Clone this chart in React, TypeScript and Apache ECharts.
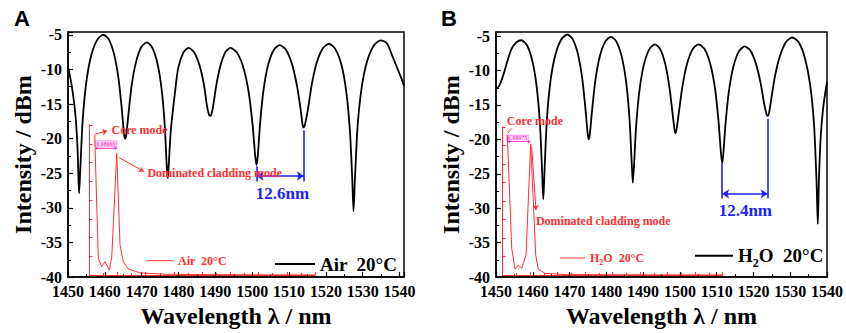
import React, { useEffect, useRef } from 'react';
import * as echarts from 'echarts';

// ---------- data ----------
// Panel A: transmission spectrum in air (wavelength nm, intensity dBm)
const spectrumA: number[][] = [
  [1450, -9.6], [1451, -12.3], [1452, -16.5], [1452.6, -21.5], [1453.0, -27.9],
  [1453.33, -24.5], [1453.99, -17.3], [1454.98, -11.8], [1456.3, -8.0], [1457.95, -5.7],
  [1459.6, -5.0], [1461.08, -5.67], [1462.55, -7.9], [1463.73, -11.4], [1464.62, -15.8],
  [1465.2, -19.3], [1465.5, -20.0], [1465.8, -19.5], [1466.4, -16.5], [1467.27, -12.35],
  [1468.45, -8.95], [1469.9, -6.76], [1471.4, -6.1], [1472.8, -6.79], [1474.25, -9.07],
  [1475.4, -12.8], [1476.25, -18.0], [1476.8, -24.0], [1477.1, -25.7], [1477.38, -23.5],
  [1477.94, -18.6], [1479.0, -13.5], [1479.9, -9.85], [1481.3, -7.58], [1482.7, -6.9],
  [1484.18, -7.5], [1485.75, -9.5], [1486.93, -12.3], [1487.7, -15.2], [1488.3, -16.6],
  [1488.6, -16.7], [1488.88, -16.6], [1489.43, -15.2], [1490.25, -12.3], [1491.35, -9.5],
  [1492.73, -7.5], [1494.1, -6.9], [1495.88, -7.58], [1497.65, -9.82], [1499.07, -13.4],
  [1500.14, -18.2], [1500.85, -22.7], [1501.2, -23.8], [1501.51, -22.5], [1502.13, -17.9],
  [1503.06, -13.0], [1504.3, -9.4], [1505.85, -7.2], [1507.4, -6.5], [1509.1, -7.14],
  [1510.8, -9.24], [1512.16, -12.4], [1513.18, -15.9], [1513.7, -18.1], [1514.0, -18.4],
  [1514.35, -17.9], [1515.15, -15.7], [1516.16, -12.2], [1517.5, -9.04], [1519.18, -6.94],
  [1520.85, -6.3], [1522.5, -7.0], [1524.2, -9.3], [1525.5, -13.1], [1526.5, -18.7],
  [1527.17, -26.0], [1527.5, -30.5], [1527.87, -26.0], [1528.61, -18.2], [1529.72, -12.6],
  [1531.2, -8.8], [1533.05, -6.5], [1534.9, -5.8], [1536.5, -6.2], [1538.0, -8.0],
  [1539.5, -10.0], [1540.5, -11.3], [1541.2, -12.4],
];

// Panel B: transmission spectrum in water
const spectrumB: number[][] = [
  [1450, -12.6], [1450.8, -12.3], [1451.9, -10.8], [1453.0, -8.8], [1454.2, -6.9],
  [1455.5, -5.9], [1456.9, -5.6], [1458.39, -6.29], [1459.88, -8.6], [1461.07, -12.4],
  [1461.97, -17.9], [1462.56, -25.1], [1462.86, -28.7], [1463.19, -24.6], [1463.84, -17.1],
  [1464.82, -11.5], [1466.13, -7.75], [1467.77, -5.45], [1469.4, -4.76], [1470.85, -5.43],
  [1472.3, -7.65], [1473.46, -11.2], [1474.33, -15.6], [1474.91, -19.1], [1475.2, -20.0],
  [1475.5, -19.3], [1476.1, -15.9], [1477.0, -11.5], [1478.2, -8.0], [1479.74, -5.77],
  [1481.25, -5.1], [1482.74, -5.79], [1484.23, -8.08], [1485.42, -11.8], [1486.31, -17.1],
  [1486.9, -23.4], [1487.2, -26.3], [1487.5, -24.1], [1488.1, -18.1], [1489.0, -12.9],
  [1490.2, -9.17], [1491.7, -6.89], [1493.2, -6.2], [1494.6, -6.85], [1496.0, -9.0],
  [1497.12, -12.3], [1497.96, -16.0], [1498.52, -18.5], [1498.8, -19.1], [1499.1, -18.5],
  [1499.75, -16.0], [1500.69, -12.3], [1501.95, -9.0], [1503.53, -6.85], [1505.1, -6.2],
  [1506.7, -6.88], [1508.3, -9.12], [1509.58, -12.7], [1510.54, -17.6], [1511.18, -22.1],
  [1511.5, -23.4], [1511.8, -22.2], [1512.4, -17.8], [1513.33, -13.0], [1514.55, -9.42],
  [1516.08, -7.18], [1517.6, -6.5], [1519.16, -7.1], [1520.73, -9.1], [1521.98, -11.9],
  [1522.9, -14.8], [1523.54, -16.3], [1523.85, -16.6], [1524.2, -16.3], [1524.85, -14.1],
  [1525.86, -10.8], [1527.2, -7.9], [1528.9, -5.83], [1530.55, -5.2], [1532.3, -5.9],
  [1534.0, -8.2], [1535.4, -12.0], [1536.46, -17.7], [1537.15, -26.0], [1537.5, -32.3],
  [1537.8, -26.0], [1538.3, -19.5], [1539.0, -15.2], [1540.0, -11.7],
];

// Insets: spatial-frequency spectra (arbitrary units)
const insetA: number[][] = [
  [0.0191, 0.75], [0.0319, 0.089], [0.044, 0.044], [0.0557, 0.071], [0.0709, 0.027],
  [0.0794, 0.091], [0.0972, 0.649], [0.1089, 0.16], [0.1206, 0.071], [0.1383, 0.032],
  [0.1798, 0.011], [0.272, 0.004], [0.3926, 0.002], [0.605, 0.001], [0.8, 0.0005],
];
const insetB: number[][] = [
  [0.0175, 0.757], [0.0335, 0.144], [0.0455, 0.032], [0.0575, 0.054], [0.0698, 0.036],
  [0.0855, 0.108], [0.1025, 0.708], [0.112, 0.396], [0.1207, 0.108], [0.13, 0.032],
  [0.1545, 0.009], [0.233, 0.002], [0.5, 0.001], [0.8, 0.0005],
];

const xTickLabels = [1450, 1460, 1470, 1480, 1490, 1500, 1510, 1520, 1530, 1540];
const yTickLabels = [-40, -35, -30, -25, -20, -15, -10, -5];

// FSR annotations
const fsrA = { left: 1501.2, right: 1514.0, leftTop: -24.0, rightTop: -18.8, arrowY: -25.4, bottom: -26.2, text: '12.6nm', textPos: [1508.2, -27.9] };
const fsrB = { left: 1511.5, right: 1523.85, leftTop: -23.4, rightTop: -17.0, arrowY: -27.9, bottom: -28.6, text: '12.4nm', textPos: [1517.8, -30.3] };

const FONT = 'Liberation Serif, Times New Roman, serif';
const RED = '#ff3030';
const BLUE = '#1f1fff';
const MAGENTA = '#ff33cc';

function fmtX(v: number) {
  const r = Math.round(v * 1000) / 1000;
  return xTickLabels.includes(r) ? String(r) : '';
}
function fmtY(v: number) {
  const r = Math.round(v * 1000) / 1000;
  return yTickLabels.includes(r) ? String(r) : '';
}

const tickLabelStyle = { fontFamily: FONT, fontWeight: 'bold' as const, fontSize: 16, color: '#000' };
const nameStyle = { fontFamily: FONT, fontWeight: 'bold' as const, fontSize: 24, color: '#000' };

function mainX(gridIndex: number, max: number) {
  return {
    type: 'value', gridIndex, min: 1450, max, interval: 10,
    axisLine: { show: true, lineStyle: { color: '#000', width: 1.5 } },
    axisTick: { show: true, inside: true, length: 5, lineStyle: { color: '#000', width: 1.2 } },
    minorTick: { show: true, splitNumber: 2, length: 3, lineStyle: { color: '#000', width: 1 } },
    axisLabel: { ...tickLabelStyle, margin: 6, formatter: fmtX },
    splitLine: { show: false },
    name: 'Wavelength λ / nm', nameLocation: 'middle', nameGap: 19, nameTextStyle: nameStyle,
  };
}
function mainY(gridIndex: number, max: number) {
  return {
    type: 'value', gridIndex, min: -40, max, interval: 5,
    axisLine: { show: true, lineStyle: { color: '#000', width: 1.5 } },
    axisTick: { show: true, inside: true, length: 5, lineStyle: { color: '#000', width: 1.2 } },
    minorTick: { show: true, splitNumber: 2, length: 3, lineStyle: { color: '#000', width: 1 } },
    axisLabel: { ...tickLabelStyle, margin: 6, formatter: fmtY },
    splitLine: { show: false },
    name: 'Intensity / dBm', nameLocation: 'middle', nameGap: 33, nameTextStyle: nameStyle,
  };
}
function insetX(gridIndex: number) {
  return {
    type: 'value', gridIndex, min: 0, max: 0.8, interval: 0.1,
    axisLine: { show: true, lineStyle: { color: RED, width: 1 } },
    axisTick: { show: true, inside: true, length: 3, lineStyle: { color: RED, width: 1 } },
    minorTick: { show: true, splitNumber: 2, length: 2, lineStyle: { color: RED, width: 1 } },
    axisLabel: { show: false }, splitLine: { show: false },
  };
}
function insetY(gridIndex: number) {
  return {
    type: 'value', gridIndex, min: 0, max: 0.8, interval: 0.1,
    axisLine: { show: true, lineStyle: { color: RED, width: 1 } },
    axisTick: { show: true, inside: true, length: 3, lineStyle: { color: RED, width: 1 } },
    axisLabel: { show: false }, splitLine: { show: false },
  };
}

function fsrMarks(f: typeof fsrA) {
  return {
    markLine: {
      silent: true, symbol: ['none', 'none'], symbolSize: 7,
      label: { show: false },
      lineStyle: { color: BLUE, width: 1.6, type: 'solid' },
      data: [
        [{ coord: [f.left, f.leftTop] }, { coord: [f.left, f.bottom] }],
        [{ coord: [f.right, f.rightTop] }, { coord: [f.right, f.bottom] }],
        [{ coord: [f.left, f.arrowY], symbol: 'arrow' }, { coord: [f.right, f.arrowY], symbol: 'arrow' }],
      ],
    },
  };
}

function textPoint(coord: number[], text: string, style: any) {
  return { coord, label: { show: true, position: 'inside', formatter: text, ...style } };
}

const redText = { color: RED, fontFamily: FONT, fontWeight: 'bold', fontSize: 12 };
const magText = { color: MAGENTA, fontFamily: FONT, fontWeight: 'bold', fontSize: 6, borderColor: MAGENTA, borderWidth: 0.6, padding: [0, 1] };

function buildOption() {
  return {
    animation: false,
    backgroundColor: '#fff',
    title: [
      { text: 'A', left: 14, top: 7, padding: 0, textStyle: { fontFamily: 'Liberation Sans', fontWeight: 'bold', fontSize: 22, color: '#000' } },
      { text: 'B', left: 441, top: 7, padding: 0, textStyle: { fontFamily: 'Liberation Sans', fontWeight: 'bold', fontSize: 22, color: '#000' } },
    ],
    grid: [
      { left: 68, top: 32, width: 336, height: 248, show: true, borderColor: '#000', borderWidth: 1.5, backgroundColor: 'transparent' },
      { left: 496, top: 32, width: 336, height: 248, show: true, borderColor: '#000', borderWidth: 1.5, backgroundColor: 'transparent' },
      { left: 89.3, top: 125, width: 225.7, height: 150 },
      { left: 502.5, top: 127, width: 220, height: 148 },
    ],
    xAxis: [mainX(0, 1541.2), mainX(1, 1540), insetX(2), insetX(3)],
    yAxis: [mainY(0, -4.6), mainY(1, -4.4), insetY(2), insetY(3)],
    legend: [
      {
        data: ['mainA'], left: 275, top: 254.5, icon: 'rect', itemWidth: 40, itemHeight: 2, padding: 0, selectedMode: false,
        formatter: () => 'Air  20°C',
        textStyle: { fontFamily: FONT, fontWeight: 'bold', fontSize: 19, color: '#000' },
      },
      {
        data: ['insetA'], left: 147, top: 254.7, icon: 'rect', itemWidth: 26, itemHeight: 1, padding: 0, selectedMode: false,
        formatter: () => 'Air  20°C',
        textStyle: { fontFamily: FONT, fontWeight: 'bold', fontSize: 12, color: RED },
      },
      {
        data: ['mainB'], left: 695, top: 246.3, icon: 'rect', itemWidth: 38, itemHeight: 2, padding: 0, selectedMode: false,
        formatter: () => '{a|H}{b|2}{a|O  20°C}',
        textStyle: {
          color: '#000',
          rich: {
            a: { fontFamily: FONT, fontWeight: 'bold', fontSize: 19, lineHeight: 26, color: '#000' },
            b: { fontFamily: FONT, fontWeight: 'bold', fontSize: 12, lineHeight: 12, verticalAlign: 'bottom', color: '#000' },
          },
        },
      },
      {
        data: ['insetB'], left: 560, top: 252, icon: 'rect', itemWidth: 25, itemHeight: 1, padding: 0, selectedMode: false,
        formatter: () => '{a|H}{b|2}{a|O  20°C}',
        textStyle: {
          color: RED,
          rich: {
            a: { fontFamily: FONT, fontWeight: 'bold', fontSize: 12, lineHeight: 16, color: RED },
            b: { fontFamily: FONT, fontWeight: 'bold', fontSize: 8, lineHeight: 8, verticalAlign: 'bottom', color: RED },
          },
        },
      },
    ],
    series: [
      {
        type: 'line', name: 'insetA', xAxisIndex: 2, yAxisIndex: 2, data: insetA, symbol: 'none', z: 2,
        lineStyle: { color: RED, width: 1 }, itemStyle: { color: RED },
        markLine: {
          silent: true, symbol: ['none', 'none'], symbolSize: 5, label: { show: false },
          lineStyle: { color: RED, width: 1, type: 'solid' },
          data: [
            [{ coord: [0.021, 0.752] }, { coord: [0.064, 0.768], symbol: 'arrow' }],
            [{ coord: [0.1045, 0.627] }, { coord: [0.193, 0.552], symbol: 'arrow' }],
            [{ coord: [0.0202, 0.676], symbol: 'arrow', symbolSize: 3, lineStyle: { color: MAGENTA, width: 0.8, type: 'solid' } },
             { coord: [0.0993, 0.676], symbol: 'arrow', symbolSize: 3 }],
          ],
        },
        markPoint: {
          silent: true, symbol: 'rect', symbolSize: 1, itemStyle: { color: 'rgba(0,0,0,0)' },
          data: [
            textPoint([0.178, 0.773], 'Core mode', redText),
            textPoint([0.0592, 0.699], '0.08069', magText),
            textPoint([0.4447, 0.544], 'Dominated cladding mode', redText),
          ],
        },
      },
      {
        type: 'line', name: 'insetB', xAxisIndex: 3, yAxisIndex: 3, data: insetB, symbol: 'none', z: 2,
        lineStyle: { color: RED, width: 1 }, itemStyle: { color: RED },
        markLine: {
          silent: true, symbol: ['none', 'none'], symbolSize: 5, label: { show: false },
          lineStyle: { color: RED, width: 1, type: 'solid' },
          data: [
            [{ coord: [0.0185, 0.765] }, { coord: [0.0345, 0.793] }],
            [{ coord: [0.1062, 0.692] }, { coord: [0.1218, 0.351], symbol: 'arrow' }],
            [{ coord: [0.0175, 0.7205], symbol: 'arrow', symbolSize: 3, lineStyle: { color: MAGENTA, width: 0.8, type: 'solid' } },
             { coord: [0.1025, 0.7205], symbol: 'arrow', symbolSize: 3 }],
          ],
        },
        markPoint: {
          silent: true, symbol: 'rect', symbolSize: 1, itemStyle: { color: 'rgba(0,0,0,0)' },
          data: [
            textPoint([0.0545, 0.739], '0.08075', magText),
            textPoint([0.3665, 0.292], 'Dominated cladding mode', redText),
          ],
        },
      },
      {
        type: 'line', name: 'mainA', xAxisIndex: 0, yAxisIndex: 0, data: spectrumA, symbol: 'none', z: 3,
        smooth: 0.25, lineStyle: { color: '#000', width: 1.8 }, itemStyle: { color: '#000' },
        ...fsrMarks(fsrA),
        markPoint: {
          silent: true, symbol: 'rect', symbolSize: 1, itemStyle: { color: 'rgba(0,0,0,0)' },
          data: [textPoint(fsrA.textPos, fsrA.text, { color: BLUE, fontFamily: FONT, fontWeight: 'bold', fontSize: 17 })],
        },
      },
      {
        type: 'line', name: 'mainB', xAxisIndex: 1, yAxisIndex: 1, data: spectrumB, symbol: 'none', z: 3,
        smooth: 0.25, lineStyle: { color: '#000', width: 1.8 }, itemStyle: { color: '#000' },
        ...fsrMarks(fsrB),
        markPoint: {
          silent: true, symbol: 'rect', symbolSize: 1, itemStyle: { color: 'rgba(0,0,0,0)' },
          data: [
            textPoint(fsrB.textPos, fsrB.text, { color: BLUE, fontFamily: FONT, fontWeight: 'bold', fontSize: 17 }),
            textPoint([1460.58, -17.39], 'Core mode', redText),
          ],
        },
      },
    ],
  };
}

export default function App() {
  const ref = useRef<HTMLDivElement>(null);
  useEffect(() => {
    if (!ref.current) return;
    const chart = echarts.init(ref.current, undefined, { renderer: 'svg' });
    chart.setOption(buildOption() as any);
    return () => chart.dispose();
  }, []);
  return (
    <div
      ref={ref}
      style={{ position: 'fixed', left: 0, top: 0, width: 846, height: 333, background: '#fff' }}
    />
  );
}
